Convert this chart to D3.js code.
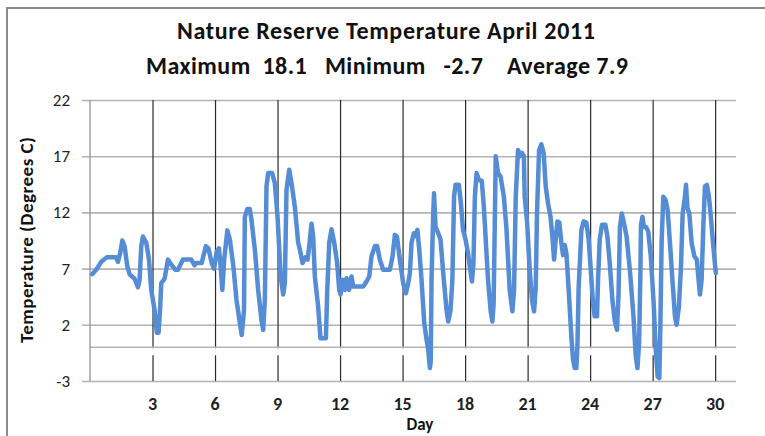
<!DOCTYPE html>
<html>
<head>
<meta charset="utf-8">
<script src="https://cdn.jsdelivr.net/npm/d3@7"></script>
<style>
	body { margin: 0; background: #fff; }
	svg text { font-family: Carlito, Calibri, Lato, sans-serif; }
</style>
</head>
<body>
<div id="chart-div"></div>
<script>
'use strict'

// hourly-ish readings: [day, degrees C]
const readings = [
	[0.1, 6.5],[0.3, 6.9],[0.54, 7.6],[0.8, 8.0],[1.25, 8.0],[1.34, 7.6],[1.45, 8.4],[1.55, 9.5],[1.66, 9.0],[1.79, 7.2],
	[1.9, 6.5],[2.14, 6.1],[2.3, 5.35],[2.38, 6.0],[2.46, 9.0],[2.54, 9.85],[2.7, 9.3],[2.83, 7.8],[2.94, 5.1],[3.1, 3.3],
	[3.21, 1.3],[3.29, 1.3],[3.36, 3.3],[3.42, 5.7],[3.58, 6.1],[3.74, 7.8],[3.85, 7.5],[4.09, 6.9],[4.22, 6.9],[4.46, 7.8],
	[4.86, 7.8],[5.02, 7.3],[5.1, 7.5],[5.36, 7.5],[5.4, 7.8],[5.56, 9.0],[5.68, 8.8],[5.84, 7.5],[5.95, 7.0],[6.08, 8.5],
	[6.19, 8.8],[6.28, 6.9],[6.35, 5.1],[6.44, 7.8],[6.59, 10.4],[6.71, 9.6],[6.88, 7.2],[7.03, 4.2],[7.19, 2.2],[7.28, 1.1],
	[7.39, 3.3],[7.43, 11.6],[7.55, 12.3],[7.67, 12.3],[7.75, 11.3],[7.91, 8.7],[8.07, 5.1],[8.23, 2.4],[8.31, 1.55],[8.39, 4.2],
	[8.47, 14.3],[8.55, 15.5],[8.74, 15.5],[8.87, 14.6],[9.0, 11.6],[9.15, 6.3],[9.27, 4.7],[9.35, 5.7],[9.43, 14.0],[9.56, 15.8],
	[9.67, 14.6],[9.83, 12.5],[9.99, 9.3],[10.07, 8.7],[10.2, 7.5],[10.33, 8.0],[10.44, 7.8],[10.52, 9.0],[10.63, 11.0],[10.71, 9.85],
	[10.79, 6.3],[10.95, 3.6],[11.06, 0.8],[11.32, 0.8],[11.38, 4.8],[11.48, 9.3],[11.59, 10.5],[11.72, 9.3],[11.86, 7.5],[11.96, 5.1],
	[12.02, 4.7],[12.12, 6.0],[12.23, 5.1],[12.31, 6.15],[12.43, 5.1],[12.55, 6.3],[12.63, 5.4],[13.11, 5.4],[13.27, 5.85],[13.4, 6.3],
	[13.51, 8.1],[13.67, 9.0],[13.78, 9.0],[13.91, 7.8],[14.07, 6.9],[14.39, 6.9],[14.52, 8.1],[14.63, 10.0],[14.73, 9.85],[14.87, 7.8],
	[15.03, 5.7],[15.16, 4.8],[15.27, 5.7],[15.35, 6.6],[15.43, 9.3],[15.54, 10.15],[15.63, 9.9],[15.71, 10.45],[15.8, 8.7],[15.91, 6.0],
	[16.04, 2.15],[16.15, 0.7],[16.23, -0.2],[16.31, -1.85],[16.35, -1.3],[16.39, 6.0],[16.47, 11.9],[16.51, 13.7],[16.58, 10.7],[16.71, 10.15],
	[16.82, 9.6],[16.95, 6.6],[17.11, 3.3],[17.19, 2.3],[17.3, 3.3],[17.39, 6.0],[17.47, 13.4],[17.54, 14.45],[17.7, 14.45],[17.8, 12.8],
	[17.9, 10.45],[18.02, 9.6],[18.14, 8.4],[18.27, 6.6],[18.33, 5.85],[18.4, 7.5],[18.47, 13.4],[18.55, 15.5],[18.66, 14.9],[18.8, 14.8],
	[18.9, 12.5],[18.99, 9.6],[19.1, 6.0],[19.23, 3.2],[19.31, 2.3],[19.37, 3.9],[19.42, 10.45],[19.47, 17.0],[19.58, 15.5],[19.7, 15.2],
	[19.86, 13.4],[19.98, 10.7],[20.14, 5.1],[20.27, 3.2],[20.35, 5.1],[20.43, 13.4],[20.54, 17.55],[20.63, 17.0],[20.73, 17.3],[20.82, 17.0],
	[20.86, 13.4],[20.98, 11.0],[21.1, 6.9],[21.21, 4.2],[21.31, 3.2],[21.39, 5.4],[21.45, 11.9],[21.55, 17.55],[21.66, 18.05],[21.77, 17.25],
	[21.87, 14.3],[21.98, 12.8],[22.1, 11.6],[22.19, 9.85],[22.27, 7.8],[22.35, 9.6],[22.43, 11.2],[22.52, 11.1],[22.62, 9.3],[22.7, 8.2],
	[22.78, 9.1],[22.86, 8.4],[22.99, 4.5],[23.1, 0.95],[23.18, -1.1],[23.26, -1.85],[23.34, -1.85],[23.39, 0.1],[23.45, 5.4],[23.53, 8.4],
	[23.58, 10.45],[23.69, 11.2],[23.82, 11.1],[23.93, 9.6],[24.03, 6.9],[24.14, 3.9],[24.22, 2.75],[24.33, 2.75],[24.38, 6.0],[24.46, 9.6],
	[24.57, 10.9],[24.73, 10.9],[24.83, 9.85],[24.94, 7.5],[25.07, 4.2],[25.18, 2.4],[25.29, 1.55],[25.36, 4.5],[25.43, 10.7],[25.52, 11.9],
	[25.63, 11.0],[25.75, 9.85],[25.92, 6.6],[26.08, 2.75],[26.19, -0.8],[26.27, -1.85],[26.35, 0.4],[26.41, 6.3],[26.44, 10.9],[26.51, 11.6],
	[26.58, 10.7],[26.68, 10.7],[26.79, 10.3],[26.91, 8.1],[27.04, 4.2],[27.15, -0.2],[27.24, -2.6],[27.32, -2.75],[27.37, 1.8],[27.43, 9.3],
	[27.51, 13.4],[27.62, 13.1],[27.72, 12.2],[27.83, 9.3],[27.96, 5.7],[28.07, 2.75],[28.15, 2.0],[28.26, 3.6],[28.36, 7.2],[28.44, 11.9],
	[28.55, 13.4],[28.6, 14.45],[28.67, 12.4],[28.76, 11.9],[28.87, 9.3],[29.0, 8.1],[29.12, 7.8],[29.19, 6.3],[29.27, 4.7],[29.35, 6.0],
	[29.43, 10.7],[29.51, 14.3],[29.6, 14.45],[29.7, 13.4],[29.78, 11.9],[29.91, 9.0],[30.03, 6.6]
]

const dayTicks = [3, 6, 9, 12, 15, 18, 21, 24, 27, 30]
const tempTicks = [-3, 2, 7, 12, 17, 22]
const titleText = "Nature Reserve Temperature April 2011"
const statsText = "Maximum  18.1   Minimum   -2.7    Average 7.9"

function drawChart(){

	let width = 765
	let height = 436
	let plot = {left: 90, right: 736, top: 100, bottom: 381}

	let svg = d3.select("#chart-div").append("svg")
		.attr("width", width).attr("height", height)

	// outer chart frame
	svg.append("path")
		.attr("d", "M7,440 L7,8 L770,8")
		.attr("fill", "none").attr("stroke", "#8a8a8a").attr("stroke-width", 2)

	let xScale = d3.scaleLinear().domain([0, 31]).range([plot.left, plot.right])
	let yScale = d3.scaleLinear().domain([-3, 22]).range([plot.bottom, plot.top])

	// horizontal grid + y ticks
	svg.append("g")
		.attr("class", "y-grid")
		.attr("transform", "translate(" + plot.right + ",0)")
		.call(d3.axisLeft(yScale).tickValues(tempTicks).tickSize(plot.right - plot.left + 8).tickFormat(""))
		.call(function(g){
			g.select(".domain").remove()
			g.selectAll("line").attr("stroke", "#b3b3b3").attr("stroke-width", 1.6)
		})

	// day lines
	svg.append("g")
		.attr("class", "x-grid")
		.attr("transform", "translate(0," + plot.bottom + ")")
		.call(d3.axisBottom(xScale).tickValues(dayTicks).tickSize(-(plot.bottom - plot.top)).tickFormat(""))
		.call(function(g){
			g.select(".domain").remove()
			g.selectAll("line").attr("stroke", "#2a2a2a").attr("stroke-width", 1.2)
		})

	// zero line, with the little white band beneath it
	svg.append("rect")
		.attr("x", plot.left + 2).attr("y", yScale(0) + 1)
		.attr("width", plot.right - plot.left - 2).attr("height", 7)
		.attr("fill", "#fff")
	svg.append("line")
		.attr("x1", plot.left).attr("x2", plot.right)
		.attr("y1", yScale(0)).attr("y2", yScale(0))
		.attr("stroke", "#b3b3b3").attr("stroke-width", 1.6)

	// left axis line
	svg.append("line")
		.attr("x1", plot.left).attr("x2", plot.left)
		.attr("y1", plot.top).attr("y2", plot.bottom)
		.attr("stroke", "#999").attr("stroke-width", 1.4)

	// y tick labels
	svg.append("g")
		.selectAll("text")
		.data(tempTicks)
		.enter()
		.append("text")
		.attr("x", 70)
		.attr("y", function(d){ return yScale(d) })
		.attr("dy", "0.35em")
		.attr("text-anchor", "end")
		.attr("font-size", 17)
		.attr("fill", "#222")
		.text(function(d){ return d })

	// x tick labels
	svg.append("g")
		.selectAll("text")
		.data(dayTicks)
		.enter()
		.append("text")
		.attr("x", function(d){ return xScale(d) })
		.attr("y", 404)
		.attr("dy", "0.35em")
		.attr("text-anchor", "middle")
		.attr("font-size", 18)
		.attr("font-weight", "bold")
		.attr("fill", "#222")
		.text(function(d){ return d })

	// temperature trace
	let line = d3.line()
		.x(function(d){ return xScale(d[0]) })
		.y(function(d){ return yScale(d[1]) })

	svg.append("path")
		.datum(readings)
		.attr("d", line)
		.attr("fill", "none")
		.attr("stroke", "#558cd6")
		.attr("stroke-width", 4.5)
		.attr("stroke-linejoin", "round")
		.attr("stroke-linecap", "round")

	// titles (stretched to the width the original occupies)
	svg.append("text")
		.attr("x", 386).attr("y", 31).attr("dy", "0.35em")
		.attr("text-anchor", "middle")
		.attr("font-size", 24).attr("font-weight", "bold").attr("fill", "#111")
		.attr("textLength", 418).attr("lengthAdjust", "spacing")
		.text(titleText)

	svg.append("text")
		.attr("x", 387).attr("y", 66).attr("dy", "0.35em")
		.attr("text-anchor", "middle")
		.attr("xml:space", "preserve")
		.style("white-space", "pre")
		.attr("font-size", 24).attr("font-weight", "bold").attr("fill", "#111")
		.attr("textLength", 482).attr("lengthAdjust", "spacing")
		.text(statsText)

	svg.append("text")
		.attr("transform", "translate(26," + 240 + ") rotate(-90)")
		.attr("dy", "0.35em")
		.attr("text-anchor", "middle")
		.attr("font-size", 19).attr("font-weight", "bold").attr("fill", "#111")
		.attr("textLength", 206).attr("lengthAdjust", "spacing")
		.text("Temperature (Degrees C)")

	svg.append("text")
		.attr("x", 420).attr("y", 424).attr("dy", "0.35em")
		.attr("text-anchor", "middle")
		.attr("font-size", 17).attr("font-weight", "bold").attr("fill", "#111")
		.text("Day")
}

drawChart()
</script>
</body>
</html>
